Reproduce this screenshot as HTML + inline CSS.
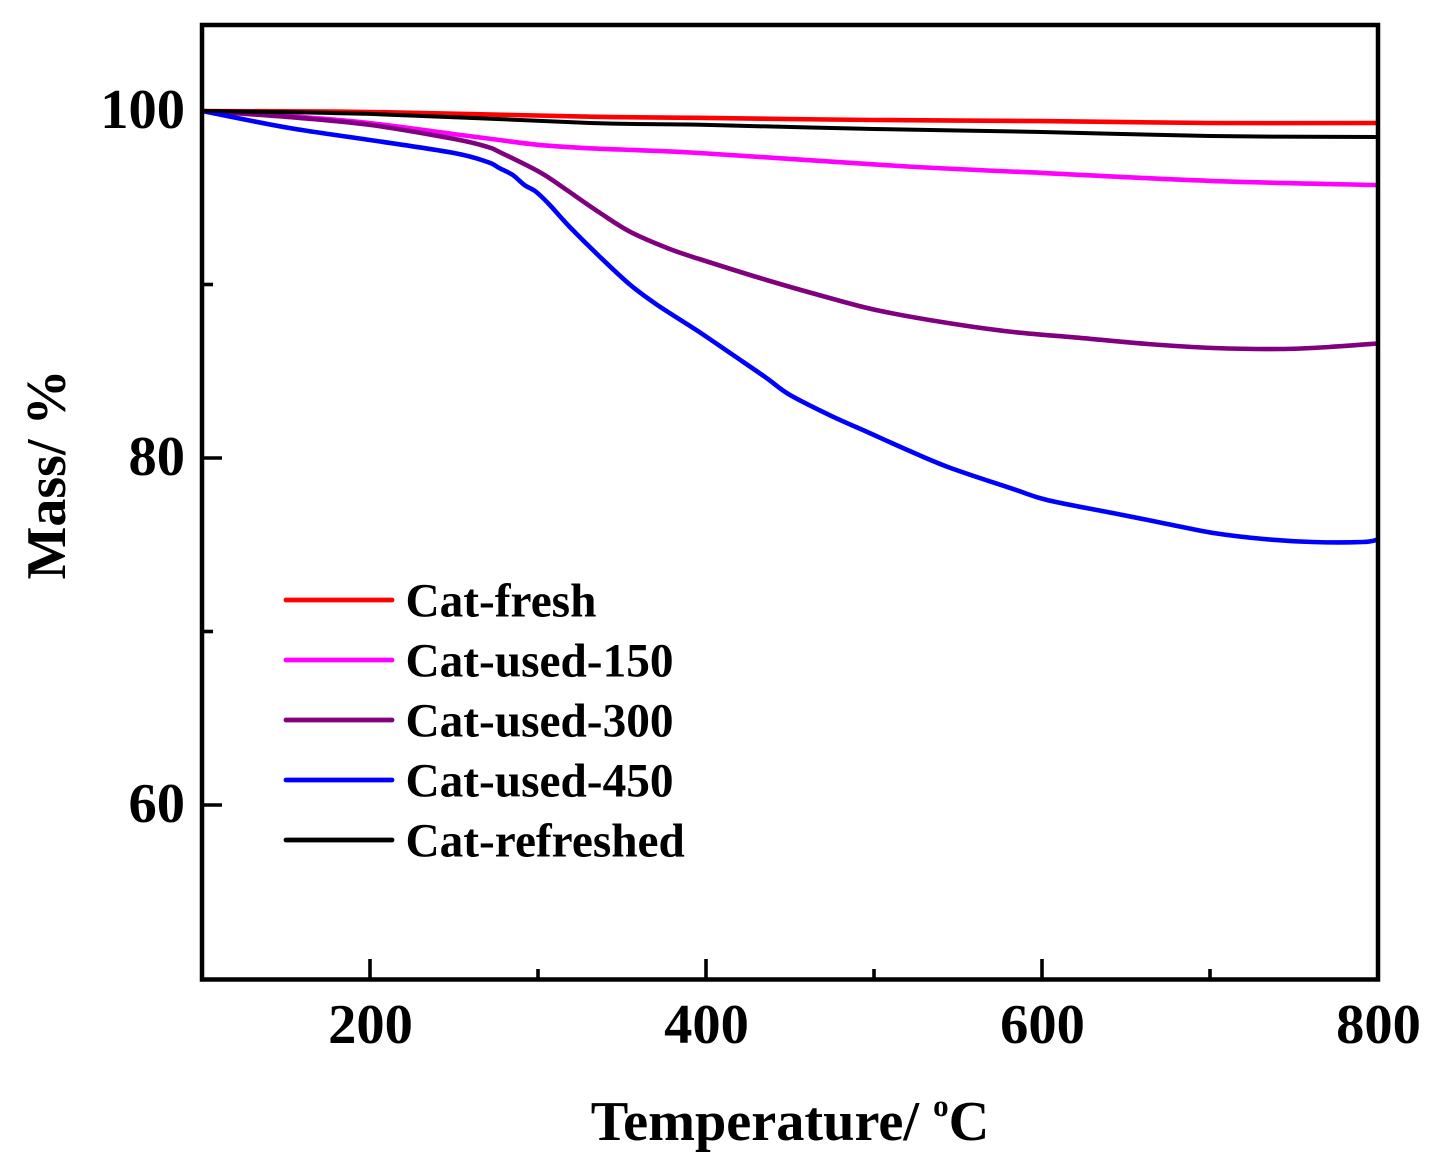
<!DOCTYPE html>
<html lang="en">
<head>
<meta charset="utf-8">
<title>Mass vs Temperature</title>
<style>
  html, body { margin: 0; padding: 0; background: #fff; }
  svg { display: block; }
  text { font-family: "Liberation Serif", serif; font-weight: bold; fill: #000; }
</style>
</head>
<body>
<svg id="chart" xmlns="http://www.w3.org/2000/svg" width="1444" height="1171" viewBox="0 0 1444 1171">
  <rect x="0" y="0" width="1444" height="1171" fill="#fff"/>
  <g id="series"></g>
  <rect x="202" y="25" width="1176" height="954.5" fill="none" stroke="#000" stroke-width="4.5"/>
  <g id="ticks"></g>
  <text x="790" y="1140" font-size="56.3" text-anchor="middle">Temperature/ <tspan font-size="31" dy="-24">o</tspan><tspan dy="24">C</tspan></text>
  <text transform="translate(65,474.5) rotate(-90)" font-size="56" text-anchor="middle">Mass/ %</text>
  <g id="legend"></g>
</svg>
<script>
const xMajorTicks = [200, 400, 600, 800];
const xMinorTicks = [300, 500, 700];
const yMajorTicks = [60, 80, 100];
const yMinorTicks = [70, 90];

const seriesNames = ["Cat-fresh", "Cat-used-150", "Cat-used-300", "Cat-used-450", "Cat-refreshed"];

const freshTemps = [100, 200, 331, 400, 500, 600, 700, 800];
const freshMass = [100, 99.94, 99.67, 99.6, 99.48, 99.42, 99.31, 99.31];

const used150Temps = [100, 152, 200, 250, 277, 300, 331, 396, 515, 600, 700, 800];
const used150Mass = [100, 99.7, 99.3, 98.67, 98.33, 98.05, 97.85, 97.58, 96.83, 96.43, 95.97, 95.73];

const used300Temps = [100, 152, 200, 250, 270, 277, 301, 317, 337, 355, 377, 396, 436, 476, 504, 544, 583, 623, 663, 702, 742, 771, 800];
const used300Mass = [100, 99.65, 99.2, 98.39, 97.93, 97.64, 96.48, 95.45, 94.12, 93.03, 92.1, 91.47, 90.26, 89.16, 88.47, 87.78, 87.26, 86.92, 86.57, 86.34, 86.28, 86.4, 86.6];

const used450Temps = [100, 152, 200, 250, 270, 277, 285, 292, 299, 307, 319, 337, 355, 371, 396, 416, 436, 450, 476, 496, 516, 544, 583, 603, 642, 672, 702, 732, 761, 791, 800];
const used450Mass = [100, 99.02, 98.33, 97.58, 97.06, 96.71, 96.31, 95.73, 95.33, 94.58, 93.31, 91.58, 89.97, 88.82, 87.26, 85.94, 84.61, 83.63, 82.36, 81.5, 80.63, 79.48, 78.21, 77.58, 76.83, 76.25, 75.68, 75.33, 75.16, 75.16, 75.3];

const refreshedTemps = [100, 200, 331, 400, 500, 600, 700, 800];
const refreshedMass = [100, 99.83, 99.31, 99.2, 98.96, 98.79, 98.56, 98.5];

const svgNS = "http://www.w3.org/2000/svg";
const xScale = t => 202 + (t - 100) * 1.68;
const yScale = m => 111 + (100 - m) * 17.35;

function makeEl(tag, attrs, parent) {
  const el = document.createElementNS(svgNS, tag);
  for (const k in attrs) el.setAttribute(k, attrs[k]);
  parent.appendChild(el);
  return el;
}

const seriesGroup = document.getElementById("series");
const ticksGroup = document.getElementById("ticks");
const legendGroup = document.getElementById("legend");

function smoothPath(temps, mass) {
  const p = temps.map((t, i) => [xScale(t), yScale(mass[i])]);
  let d = "M" + p[0][0].toFixed(1) + " " + p[0][1].toFixed(1);
  for (let i = 0; i < p.length - 1; i++) {
    const a = p[Math.max(i - 1, 0)], b = p[i], c = p[i + 1], e = p[Math.min(i + 2, p.length - 1)];
    const c1x = b[0] + (c[0] - a[0]) / 6, c1y = b[1] + (c[1] - a[1]) / 6;
    const c2x = c[0] - (e[0] - b[0]) / 6, c2y = c[1] - (e[1] - b[1]) / 6;
    d += "C" + c1x.toFixed(1) + " " + c1y.toFixed(1) + " " + c2x.toFixed(1) + " " + c2y.toFixed(1) + " " + c[0].toFixed(1) + " " + c[1].toFixed(1);
  }
  return d;
}

function drawSeries(temps, mass, color, width, name) {
  const line = makeEl("path", { d: smoothPath(temps, mass), fill: "none", stroke: color, "stroke-width": width, "stroke-linejoin": "round" }, seriesGroup);
  
  
}

drawSeries(used150Temps, used150Mass, "#ff00ff", 4.6, "series-cat-used-150");
drawSeries(freshTemps, freshMass, "#ff0000", 4.6, "series-cat-fresh");
drawSeries(used300Temps, used300Mass, "#800080", 4.6, "series-cat-used-300");
drawSeries(refreshedTemps, refreshedMass, "#000000", 4, "series-cat-refreshed");
drawSeries(used450Temps, used450Mass, "#0000ff", 4.6, "series-cat-used-450");

xMajorTicks.forEach(t => {
  const tick = makeEl("line", { x1: xScale(t), x2: xScale(t), y1: 959, y2: 979, stroke: "#000", "stroke-width": 3.6 }, ticksGroup);
  
  
  const label = makeEl("text", { x: xScale(t) + 0.5, y: 1043, "font-size": 56.5, "text-anchor": "middle" }, ticksGroup);
  
  
  label.textContent = t;
});
xMinorTicks.forEach(t => {
  const tick = makeEl("line", { x1: xScale(t), x2: xScale(t), y1: 969, y2: 979, stroke: "#000", "stroke-width": 3.6 }, ticksGroup);
  
  
});
yMajorTicks.forEach(m => {
  const tick = makeEl("line", { x1: 202, x2: 222, y1: yScale(m), y2: yScale(m), stroke: "#000", "stroke-width": 3.6 }, ticksGroup);
  
  
  const label = makeEl("text", { x: 185, y: yScale(m) + 17, "font-size": 56.5, "text-anchor": "end" }, ticksGroup);
  
  
  label.textContent = m;
});
yMinorTicks.forEach(m => {
  const tick = makeEl("line", { x1: 202, x2: 213, y1: yScale(m), y2: yScale(m), stroke: "#000", "stroke-width": 3.6 }, ticksGroup);
  
  
});

const legendColors = ["#ff0000", "#ff00ff", "#800080", "#0000ff", "#000000"];
seriesNames.forEach((n, i) => {
  const rowY = 600 + i * 60;
  const swatch = makeEl("line", { x1: 286, x2: 392, y1: rowY, y2: rowY, stroke: legendColors[i], "stroke-width": 4.8, "stroke-linecap": "round" }, legendGroup);
  
  
  const label = makeEl("text", { x: 405.5, y: rowY + 16.5, "font-size": 47.3 }, legendGroup);
  
  
  label.textContent = n;
});
</script>
</body>
</html>
